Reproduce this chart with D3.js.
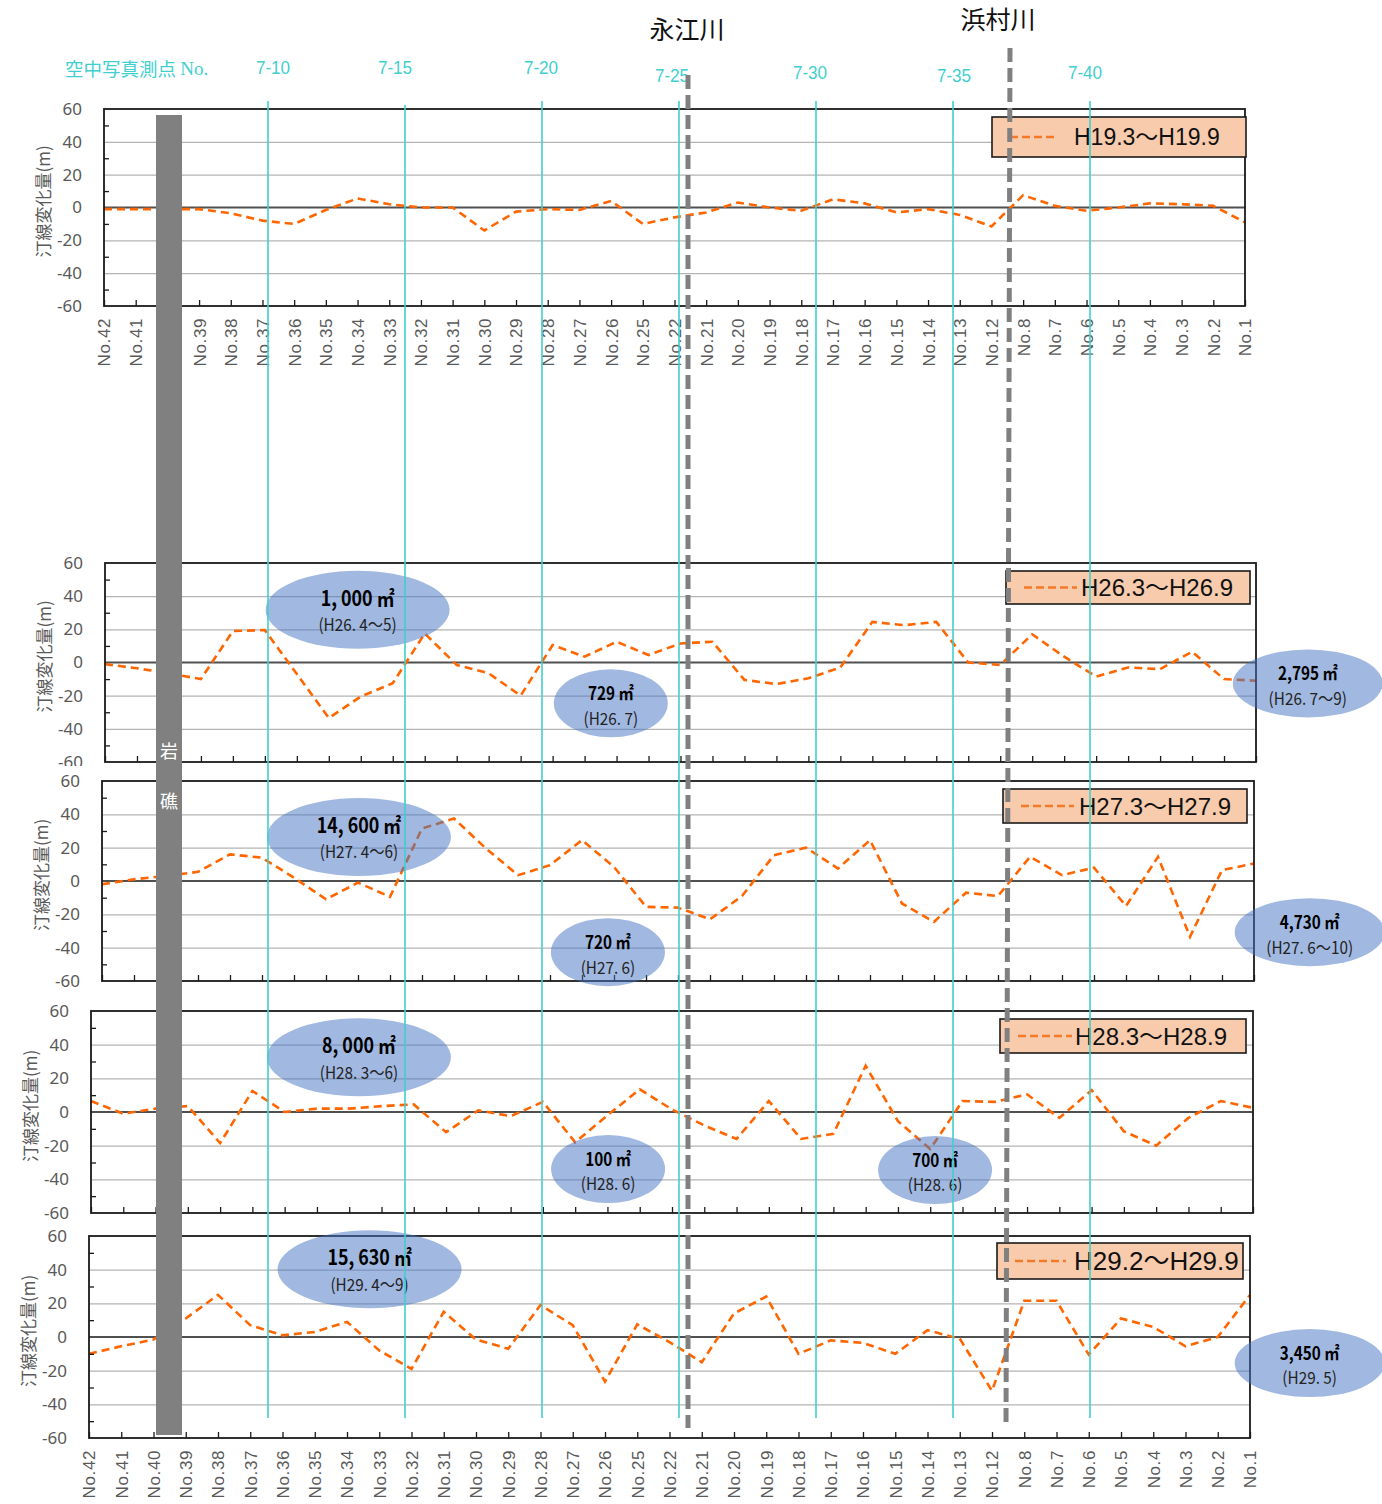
<!DOCTYPE html>
<html>
<head>
<meta charset="utf-8">
<script src="https://cdn.jsdelivr.net/npm/d3@7"></script>
<style>
  body { margin: 0; background: #fff; }
  text { font-family: "Noto Sans CJK JP", "Noto Sans", sans-serif; }
</style>
</head>
<body>
<svg id="chart" width="1382" height="1504"></svg>
<script>
// survey points along the coast (west -> east)
var categories = ["No.42","No.41","No.40","No.39","No.38","No.37","No.36","No.35","No.34","No.33",
  "No.32","No.31","No.30","No.29","No.28","No.27","No.26","No.25","No.22","No.21","No.20","No.19",
  "No.18","No.17","No.16","No.15","No.14","No.13","No.12","No.8","No.7","No.6","No.5","No.4",
  "No.3","No.2","No.1"];

var seriesNames = ["H19.3〜H19.9", "H26.3〜H26.9", "H27.3〜H27.9", "H28.3〜H28.9", "H29.2〜H29.9"];

// shoreline change (m)
var h19 = [-1, -1, -1, -1, -3.5, -8, -10, -1.5, 5.5, 2, 0, 0, -14, -2.5, -1, -1.5, 4, -10, -6,
  -3, 3, 0, -2, 5, 2.5, -3, -1, -4.5, -11.5, 7.5, 1, -2, 0, 2.5, 2, 1, -9];
var h26 = [-1, -3.5, -6.5, -10, 19, 19.5, -7, -33.5, -20.5, -12.5, 17.5, -1.5, -6.5, -20, 10.5,
  3.5, 12.5, 4.5, 11.5, 12.5, -10.5, -13, -9.5, -3, 24.5, 22.5, 24.5, 0, -1.5, 17, 3.5, -8.5, -3,
  -4, 6.5, -10, -11];
var h27 = [-2, 1, 3, 5.5, 16, 14, 2, -11, -1, -9.5, 31.5, 37.5, 19.5, 3.5, 9.5, 24.5, 8.5, -15.5,
  -16, -23, -9, 15.5, 20, 7.5, 24.5, -13.5, -24.5, -7, -9, 14.5, 3.5, 8, -15, 14.5, -33.5, 6.5, 10.5];
var h28 = [6.5, -1, 2, 3.5, -18.5, 12.5, 0, 2, 2, 3.5, 4.5, -12, 1, -2.5, 6, -18, -2, 13.5, 1.5,
  -8, -16, 6.5, -16, -13, 27.5, -5.5, -22, 6.5, 6, 10.5, -3.5, 13, -11.5, -20, -3.5, 6.5, 2.5];
var h29 = [-10, -5.5, -1.5, 11, 25, 7, 1, 3, 9, -8, -19, 15, -1.5, -7, 19, 7, -26.5, 7.5, -3,
  -15, 14, 24, -10, -2, -3.5, -10, 4, -1, -32, 21.5, 21.5, -10.5, 11, 6, -5.5, 0, 25];
var seriesValues = [h19, h26, h27, h28, h29];

var yTicks = [-60, -40, -20, 0, 20, 40, 60];
var yGrid = [-40, -20, 20, 40];
var yMinor = [-50, -30, -10, 10, 30, 50];

// aerial photo survey points 7-10 ... 7-40
var photoPoints = [10, 15, 20, 25, 30, 35, 40];
var photoLabels = ["7-10", "7-15", "7-20", "7-25", "7-30", "7-35", "7-40"];

// nourishment volumes (panel, position in category steps, value, text)
var volumeNotes = [
  { p: 1, at: 7.9, v: 31.8, big: true, t1: "1, 000 ㎡", t2: "(H26. 4〜5)" },
  { p: 1, at: 15.82, v: -24.6, big: false, t1: "729 ㎡", t2: "(H26. 7)" },
  { p: 1, at: 37.62, v: -12.6, big: false, wide: true, t1: "2,795 ㎡", t2: "(H26. 7〜9)" },
  { p: 2, at: 8.03, v: 26.4, big: true, t1: "14, 600 ㎡", t2: "(H27. 4〜6)" },
  { p: 2, at: 15.81, v: -42.7, big: false, t1: "720 ㎡", t2: "(H27. 6)" },
  { p: 2, at: 37.74, v: -30.7, big: false, wide: true, t1: "4,730 ㎡", t2: "(H27. 6〜10)" },
  { p: 3, at: 8.3, v: 32.5, big: true, t1: "8, 000 ㎡", t2: "(H28. 3〜6)" },
  { p: 3, at: 16.02, v: -33.9, big: false, t1: "100 ㎡", t2: "(H28. 6)" },
  { p: 3, at: 26.15, v: -34.5, big: false, t1: "700 ㎡", t2: "(H28. 6)" },
  { p: 4, at: 8.7, v: 40.2, big: true, t1: "15, 630 ㎡", t2: "(H29. 4〜9)" },
  { p: 4, at: 37.85, v: -15.5, big: false, wide: true, t1: "3,450 ㎡", t2: "(H29. 5)" }
];

// panel layout
var panels = [
  { x0: 104, x1: 1245, y0: 109, y1: 306, box: [992, 117, 254, 40], line: 44, tx: 82, fs: 23, labels: true },
  { x0: 105, x1: 1256, y0: 563, y1: 762, box: [1006, 571, 244, 33], line: 53, tx: 75, fs: 24 },
  { x0: 102, x1: 1254, y0: 781, y1: 981, box: [1003, 789, 244, 34], line: 53, tx: 76, fs: 24, bgTop: 766 },
  { x0: 91, x1: 1253, y0: 1011, y1: 1213, box: [1000, 1019, 246, 34], line: 54, tx: 75, fs: 24 },
  { x0: 89, x1: 1250, y0: 1236, y1: 1438, box: [997, 1243, 246, 36], line: 51, tx: 77, fs: 26, labels: true }
];

var ORANGE = "#ff6600", CYAN = "#3fcfcf", AXISGRAY = "#595959";
var svg = d3.select("#chart");

var scales = panels.map(function (p) {
  return {
    x: d3.scalePoint().domain(categories).range([p.x0, p.x1]).padding(0),
    y: d3.scaleLinear().domain([-60, 60]).range([p.y1, p.y0])
  };
});

panels.forEach(function (p, k) {
  var x = scales[k].x, y = scales[k].y;
  var g = svg.append("g").attr("class", "panel");

  if (p.bgTop) {
    g.append("rect").attr("x", 0).attr("y", p.bgTop).attr("width", p.x1 + 4)
      .attr("height", p.y1 - p.bgTop).attr("fill", "#fff");
  }

  // gridlines
  var grid = g.append("g").attr("transform", "translate(" + p.x0 + ",0)")
    .call(d3.axisLeft(y).tickValues(yGrid).tickSize(-(p.x1 - p.x0)).tickFormat(""));
  grid.select(".domain").remove();
  grid.selectAll("line").attr("stroke", "#b4b4b4").attr("stroke-width", 1.3);

  g.append("line").attr("x1", p.x0).attr("x2", p.x1).attr("y1", y(0)).attr("y2", y(0))
    .attr("stroke", "#505050").attr("stroke-width", 2.2);

  // series
  var line = d3.line().x(function (d, i) { return x(categories[i]); }).y(function (d) { return y(d); });
  g.append("path").datum(seriesValues[k]).attr("d", line)
    .attr("fill", "none").attr("stroke", ORANGE).attr("stroke-width", 2.6)
    .attr("stroke-dasharray", "8,5");

  // frame
  g.append("rect").attr("x", p.x0).attr("y", p.y0).attr("width", p.x1 - p.x0).attr("height", p.y1 - p.y0)
    .attr("fill", "none").attr("stroke", "#1a1a1a").attr("stroke-width", 1.8);

  // minor ticks on the y axis (inward)
  var minor = g.append("g").attr("transform", "translate(" + p.x0 + ",0)")
    .call(d3.axisLeft(y).tickValues(yMinor).tickSize(-5).tickFormat(""));
  minor.select(".domain").remove();
  minor.selectAll("line").attr("stroke", "#1a1a1a").attr("stroke-width", 1.3);

  // y tick labels
  var yl = g.append("g").attr("transform", "translate(" + p.x0 + ",0)")
    .call(d3.axisLeft(y).tickValues(yTicks).tickSize(0).tickPadding(22)
      .tickFormat(function (d) { return String(d); }));
  yl.select(".domain").remove();
  yl.selectAll("text").attr("fill", AXISGRAY).style("font-size", "17px")
    .style("font-family", "'Noto Sans', sans-serif");

  // y title
  g.append("text").attr("transform", "translate(" + (p.x0 - 62) + "," + ((p.y0 + p.y1) / 2 - 6) + ") rotate(-90)")
    .attr("text-anchor", "middle").attr("dominant-baseline", "central")
    .attr("fill", AXISGRAY).style("font-size", "17px").text("汀線変化量(m)");

  // category ticks on the bottom (inward)
  var bt = g.append("g").attr("transform", "translate(0," + p.y1 + ")")
    .call(d3.axisBottom(x).tickSize(-6).tickFormat(""));
  bt.select(".domain").remove();
  bt.selectAll("line").attr("stroke", "#1a1a1a").attr("stroke-width", 1.3);

  if (p.labels) {
    var xl = g.append("g").attr("transform", "translate(0," + p.y1 + ")")
      .call(d3.axisBottom(x).tickSize(0));
    xl.select(".domain").remove();
    xl.selectAll("text")
      .attr("transform", "rotate(-90)")
      .attr("x", -12).attr("y", 0).attr("dy", "0.35em")
      .style("text-anchor", "end")
      .attr("fill", AXISGRAY).style("font-size", "17px").style("letter-spacing", "0.6px")
      .style("font-family", "'Liberation Sans', Arial, sans-serif");
  }

  // legend
  var b = p.box;
  var lg = g.append("g");
  lg.append("rect").attr("x", b[0]).attr("y", b[1]).attr("width", b[2]).attr("height", b[3])
    .attr("fill", "#f8cbad").attr("stroke", "#1a1a1a").attr("stroke-width", 1.6);
  lg.append("line").attr("x1", b[0] + 18).attr("x2", b[0] + 18 + p.line)
    .attr("y1", b[1] + b[3] / 2).attr("y2", b[1] + b[3] / 2)
    .attr("stroke", "#f47a28").attr("stroke-width", 2.6).attr("stroke-dasharray", "8,4");
  lg.append("text").attr("x", b[0] + p.tx).attr("y", b[1] + b[3] / 2)
    .attr("dominant-baseline", "central").style("font-size", p.fs + "px")
    .style("font-family", "'Liberation Sans', 'Noto Sans CJK JP', sans-serif")
    .attr("fill", "#111").text(seriesNames[k]);
});

// nourishment ellipses
volumeNotes.forEach(function (n) {
  var s = scales[n.p];
  var cx = s.x(categories[0]) + n.at * s.x.step();
  var cy = s.y(n.v);
  var rx = n.big ? 92 : (n.wide ? 75 : 57);
  var ry = n.big ? 39 : 34;
  var g = svg.append("g").attr("transform", "translate(" + cx + "," + cy + ")");
  g.append("ellipse").attr("rx", rx).attr("ry", ry).attr("fill", "#4472c4").attr("opacity", 0.5);
  g.append("text").attr("transform", "translate(0," + (n.big ? -13 : -11) + ") scale(0.85,1)")
    .attr("text-anchor", "middle").attr("dominant-baseline", "central")
    .style("font-size", (n.big ? 21 : 18) + "px").style("font-weight", "bold")
    .attr("fill", "#000").text(n.t1);
  g.append("text").attr("transform", "translate(0,14) scale(0.9,1)")
    .attr("text-anchor", "middle").attr("dominant-baseline", "central")
    .style("font-size", "17px").attr("fill", "#222").text(n.t2);
});

// rocky reef bar
svg.append("rect").attr("x", 156).attr("y", 115).attr("width", 26).attr("height", 1320).attr("fill", "#808080");
svg.append("text").attr("x", 169).attr("y", 750).attr("text-anchor", "middle").attr("dominant-baseline", "central")
  .attr("fill", "#fff").style("font-size", "18px").text("岩");
svg.append("text").attr("x", 169).attr("y", 800).attr("text-anchor", "middle").attr("dominant-baseline", "central")
  .attr("fill", "#fff").style("font-size", "18px").text("礁");

// aerial photo survey lines
var photoX = d3.scaleLinear().domain([10, 40]).range([268, 1090]);
var labelDx = [5, -10, -1, -7, -6, 1, -5];
var labelY = [68, 68, 68, 76, 73, 76, 73];
svg.selectAll(".photo-line").data(photoPoints).enter().append("line")
  .attr("class", "photo-line")
  .attr("x1", function (d) { return photoX(d); }).attr("x2", function (d) { return photoX(d); })
  .attr("y1", function (d, i) { return i === 1 ? 105 : 101; }).attr("y2", 1418)
  .attr("stroke", CYAN).attr("stroke-width", 1.6);
svg.selectAll(".photo-label").data(photoPoints).enter().append("text")
  .attr("class", "photo-label")
  .attr("transform", function (d, i) { return "translate(" + (photoX(d) + labelDx[i]) + "," + labelY[i] + ") scale(0.9,1)"; })
  .attr("text-anchor", "middle").attr("dominant-baseline", "central")
  .attr("fill", CYAN).style("font-size", "19px")
  .style("font-family", "'Liberation Sans', sans-serif")
  .text(function (d, i) { return photoLabels[i]; });
var head = svg.append("text").attr("x", 65).attr("y", 68).attr("dominant-baseline", "central")
  .attr("fill", CYAN).style("font-size", "18.5px");
head.append("tspan").text("空中写真測点 ");
head.append("tspan").style("font-family", "'Liberation Serif', serif").style("font-size", "19px").text("No.");

// rivers
svg.append("line").attr("x1", 688).attr("x2", 688).attr("y1", 75).attr("y2", 1428)
  .attr("stroke", "#808080").attr("stroke-width", 5).attr("stroke-dasharray", "14,6");
svg.append("line").attr("x1", 1010).attr("x2", 1006).attr("y1", 48).attr("y2", 1428)
  .attr("stroke", "#808080").attr("stroke-width", 5).attr("stroke-dasharray", "14,6");
svg.append("text").attr("x", 687).attr("y", 28).attr("text-anchor", "middle").attr("dominant-baseline", "central")
  .attr("fill", "#111").style("font-size", "25px").text("永江川");
svg.append("text").attr("x", 998).attr("y", 18).attr("text-anchor", "middle").attr("dominant-baseline", "central")
  .attr("fill", "#111").style("font-size", "25px").text("浜村川");
</script>
</body>
</html>
